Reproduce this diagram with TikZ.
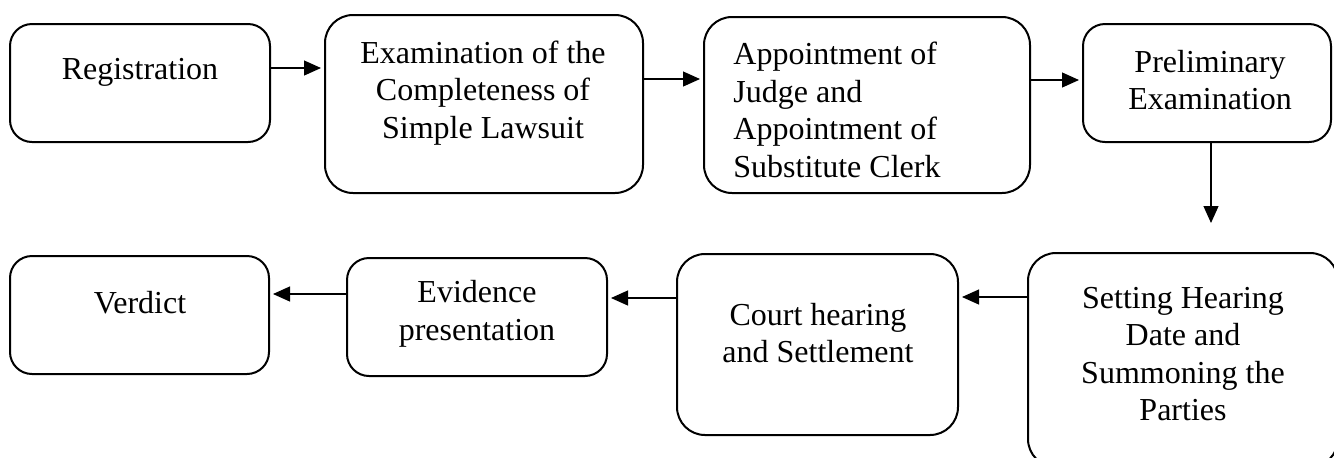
\documentclass[tikz,border=0pt]{standalone}
\usepackage{fontspec}
\setmainfont{Liberation Serif}
\usetikzlibrary{arrows.meta}
\begin{document}
\begin{tikzpicture}[x=0.5pt,y=-0.5pt,
  box/.style={draw, line width=1pt, rounded corners=11pt, inner sep=0pt},
  lbl/.style={font=\fontsize{16}{18.75}\selectfont, align=center, inner sep=0pt},
  conn/.style={line width=0.6pt, shorten >=1.5pt, -{Triangle[length=8.5pt,width=7.5pt]}}]
\useasboundingbox (0,0) rectangle (1334,457);
\clip (0,0) rectangle (1334,457);
% boxes
\node[box, minimum width=130pt, minimum height=59pt] (reg) at (140,83) {};
\node[box, minimum width=159pt, minimum height=89pt, rounded corners=14pt] (exam) at (484,104) {};
\node[box, minimum width=163pt, minimum height=88pt, rounded corners=14pt] (appt) at (867,105) {};
\node[box, minimum width=124pt, minimum height=59pt] (prel) at (1207,83) {};
\node[box, minimum width=155pt, minimum height=107pt, rounded corners=14pt] (sett) at (1183,360) {};
\node[box, minimum width=140.5pt, minimum height=90.5pt, rounded corners=14pt] (court) at (817.5,344.5) {};
\node[box, minimum width=130pt, minimum height=59pt] (evid) at (477,317) {};
\node[box, minimum width=129.5pt, minimum height=59pt] (verd) at (139.5,315) {};
% labels
\node[lbl] (regT) at (140,72) {Registration};
\node[lbl] (examT) at (483,93) {Examination of the\\Completeness of\\Simple Lawsuit};
\node[lbl, align=left, anchor=west] (apptT) at (733,110) {Appointment of\\Judge and\\Appointment of\\Substitute Clerk};
\node[lbl] (prelT) at (1210,80) {Preliminary\\Examination};
\node[lbl] (settT) at (1183,354) {Setting Hearing\\Date and\\Summoning the\\Parties};
\node[lbl] (courtT) at (818,333) {Court hearing\\and Settlement};
\node[lbl] (evidT) at (477,314) {Evidence\\presentation};
\node[lbl] (verdT) at (140,303) {Verdict};
% connectors
\coordinate (pend) at (1211,223);
\draw[conn] (reg.east |- 0,68) -- (exam.west |- 0,68);
\draw[conn] (exam.east |- 0,79) -- (appt.west |- 0,79);
\draw[conn] (appt.east |- 0,80) -- (prel.west |- 0,80);
\draw[conn, shorten >=0pt] (prel.south -| pend) -- (pend);
\draw[conn] (sett.west |- 0,297) -- (court.east |- 0,297);
\draw[conn] (court.west |- 0,298) -- (evid.east |- 0,298);
\draw[conn] (evid.west |- 0,294) -- (verd.east |- 0,294);
\end{tikzpicture}
\end{document}
